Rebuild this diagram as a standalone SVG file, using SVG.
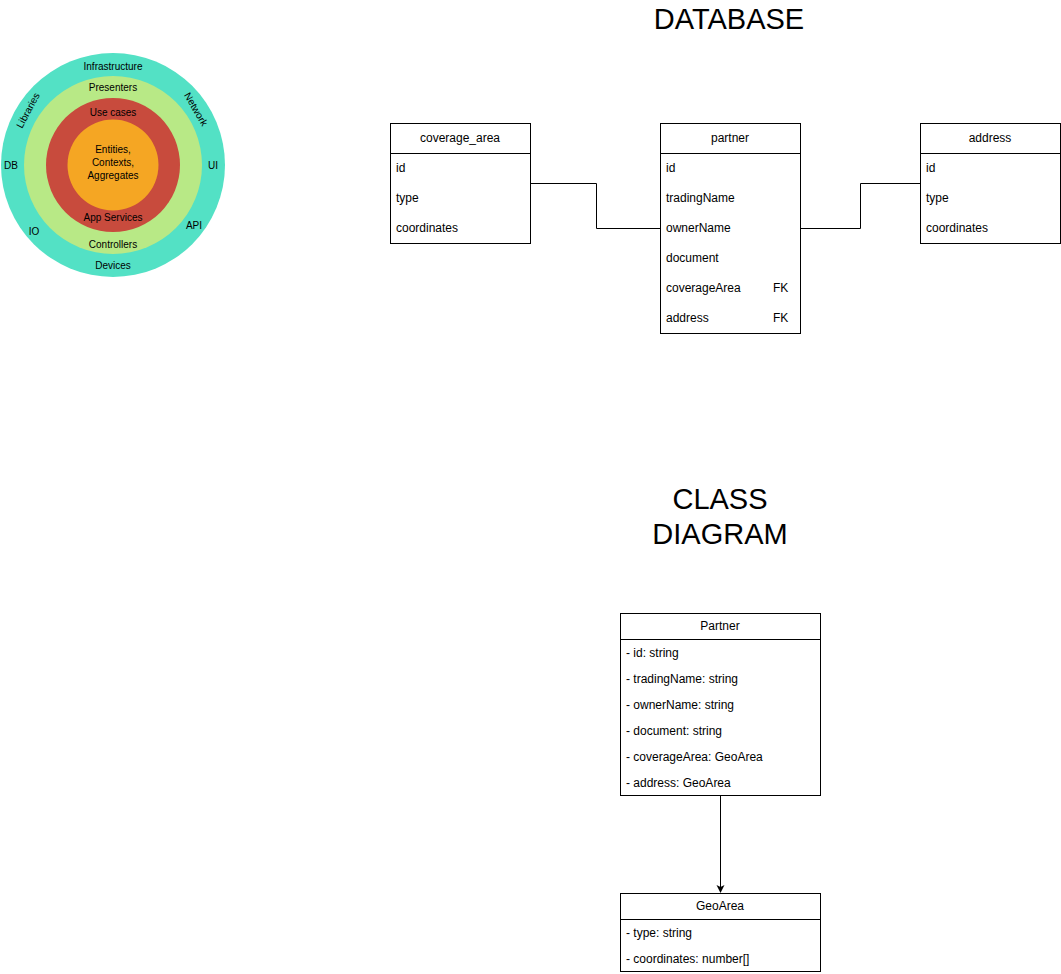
<svg xmlns="http://www.w3.org/2000/svg" width="1061" height="974" viewBox="0 0 1061 974">
<style>
text{font-family:"Liberation Sans",Arial,sans-serif;fill:#000}
.t{font-size:12px}
.c{text-anchor:middle}
.o{font-size:10px;text-anchor:middle}
.big{font-size:29px;text-anchor:middle}
.box{fill:#fff;stroke:#000;stroke-width:1}
.ln{fill:none;stroke:#000;stroke-width:1}
</style>
<defs>
<marker id="arr" markerWidth="10" markerHeight="10" refX="7" refY="4" orient="auto" markerUnits="userSpaceOnUse">
<path d="M0,0 L8,4 L0,8 L2,4 Z" fill="#000"/>
</marker>
</defs>
<rect width="1061" height="974" fill="#fff"/>

<g id="onion">
<circle cx="113" cy="165" r="112" fill="#53E1C5"/>
<circle cx="113" cy="165" r="89" fill="#B8E986"/>
<circle cx="113" cy="165" r="67" fill="#C84B3D"/>
<circle cx="113" cy="165" r="45.5" fill="#F5A623"/>
<text class="o" x="113" y="70">Infrastructure</text>
<text class="o" x="113" y="91">Presenters</text>
<text class="o" x="113" y="116">Use cases</text>
<text class="o" x="113" y="153">Entities,</text>
<text class="o" x="113" y="166">Contexts,</text>
<text class="o" x="113" y="179">Aggregates</text>
<text class="o" x="113" y="221">App Services</text>
<text class="o" x="113" y="248">Controllers</text>
<text class="o" x="113" y="269">Devices</text>
<text class="o" x="11" y="169">DB</text>
<text class="o" x="213" y="169">UI</text>
<text class="o" x="34" y="235">IO</text>
<text class="o" x="194" y="229">API</text>
<text class="o" transform="translate(31,112) rotate(-62)">Libraries</text>
<text class="o" transform="translate(193,111) rotate(60)">Network</text>
</g>

<text id="title-db" class="big" x="729" y="29">DATABASE</text>
<g id="title-class">
<text class="big" x="720" y="509">CLASS</text>
<text class="big" x="720" y="544">DIAGRAM</text>
</g>

<g id="connectors">
<polyline class="ln" points="530.5,183.5 596.5,183.5 596.5,228.5 660.5,228.5"/>
<polyline class="ln" points="800.5,228.5 860.5,228.5 860.5,183.5 920.5,183.5"/>
<line class="ln" x1="720.5" y1="795.5" x2="720.5" y2="892" marker-end="url(#arr)"/>
</g>

<g id="coverage_area">
<rect class="box" x="390.5" y="123.5" width="140" height="120"/>
<line class="ln" x1="390.5" y1="153.5" x2="530.5" y2="153.5"/>
<text class="t c" x="460" y="142">coverage_area</text>
<text class="t" x="396" y="172">id</text>
<text class="t" x="396" y="202">type</text>
<text class="t" x="396" y="232">coordinates</text>
</g>

<g id="partner">
<rect class="box" x="660.5" y="123.5" width="140" height="210"/>
<line class="ln" x1="660.5" y1="153.5" x2="800.5" y2="153.5"/>
<text class="t c" x="730" y="142">partner</text>
<text class="t" x="666" y="172">id</text>
<text class="t" x="666" y="202">tradingName</text>
<text class="t" x="666" y="232">ownerName</text>
<text class="t" x="666" y="262">document</text>
<text class="t" x="666" y="292">coverageArea</text>
<text class="t" x="773" y="292">FK</text>
<text class="t" x="666" y="322">address</text>
<text class="t" x="773" y="322">FK</text>
</g>

<g id="address">
<rect class="box" x="920.5" y="123.5" width="140" height="120"/>
<line class="ln" x1="920.5" y1="153.5" x2="1060.5" y2="153.5"/>
<text class="t c" x="990" y="142">address</text>
<text class="t" x="926" y="172">id</text>
<text class="t" x="926" y="202">type</text>
<text class="t" x="926" y="232">coordinates</text>
</g>

<g id="Partner">
<rect class="box" x="620.5" y="613.5" width="200" height="182"/>
<line class="ln" x1="620.5" y1="639.5" x2="820.5" y2="639.5"/>
<text class="t c" x="720" y="630">Partner</text>
<text class="t" x="626" y="657">- id: string</text>
<text class="t" x="626" y="683">- tradingName: string</text>
<text class="t" x="626" y="709">- ownerName: string</text>
<text class="t" x="626" y="735">- document: string</text>
<text class="t" x="626" y="761">- coverageArea: GeoArea</text>
<text class="t" x="626" y="787">- address: GeoArea</text>
</g>

<g id="GeoArea">
<rect class="box" x="620.5" y="893.5" width="200" height="78"/>
<line class="ln" x1="620.5" y1="919.5" x2="820.5" y2="919.5"/>
<text class="t c" x="720" y="910">GeoArea</text>
<text class="t" x="626" y="937">- type: string</text>
<text class="t" x="626" y="963">- coordinates: number[]</text>
</g>
</svg>
